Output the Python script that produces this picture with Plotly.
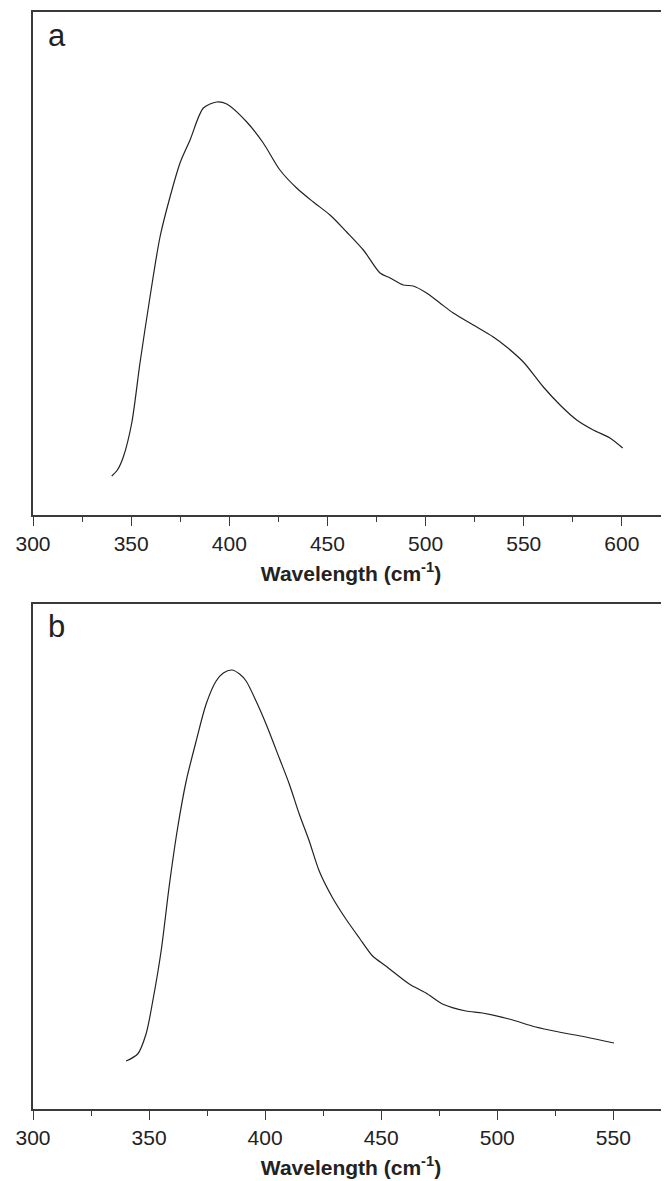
import plotly.graph_objects as go

# Panel a: PL spectrum
wl_a = [340.1, 343.0, 346.0, 350.3, 354.5, 359.6, 364.7, 369.8, 374.9, 380.0, 386.8, 393.6, 398.7,
        408.9, 417.3, 425.8, 434.3, 442.8, 451.3, 459.8, 468.3, 476.8, 481.9, 488.6, 493.7,
        500.5, 507.3, 514.1, 524.3, 534.5, 541.3, 549.8, 560.0, 568.5, 577.0, 585.4, 593.9, 600.4]
int_a = [39, 45, 58, 92, 152, 218, 278, 318, 352, 375, 407, 413, 411,
         393, 372, 345, 327, 313, 300, 283, 265, 242, 237, 230, 229,
         222, 212, 202, 190, 178, 168, 153, 128, 110, 95, 85, 77, 67]

# Panel b: PL spectrum
wl_b = [340.1, 345.1, 348.7, 351.6, 355.2, 358.8, 362.3, 366.0, 370.3, 374.6, 378.9, 382.0, 385.7,
        389.0, 391.8, 396.1, 400.4, 406.1, 410.4, 414.7, 419.0, 423.3, 429.1, 434.8, 440.6, 446.3,
        452.0, 462.1, 469.3, 476.4, 486.5, 493.6, 505.1, 516.6, 526.6, 538.1, 550.3]
int_b = [48, 55, 75, 108, 158, 225, 281, 328, 368, 405, 428, 436, 439,
         435, 428, 408, 385, 351, 325, 295, 268, 238, 211, 190, 171, 153,
         143, 125, 116, 105, 98, 96, 90, 82, 77, 72, 66]

x_ticks = [300, 350, 400, 450, 500, 550, 600]

# page body has an 8px default margin; figure sized to fill the rest of the window
W, H = 661, 1173
FONT = "Liberation Sans, Arial, sans-serif"
LINE = "#222222"
AX = "#3a3a3a"

fig = go.Figure()
fig.add_trace(go.Scatter(x=wl_a, y=int_a, mode="lines", line=dict(color=LINE, width=1.2, shape="spline", smoothing=0.8),
                         xaxis="x", yaxis="y", showlegend=False))
fig.add_trace(go.Scatter(x=wl_b, y=int_b, mode="lines", line=dict(color=LINE, width=1.2, shape="spline", smoothing=0.8),
                         xaxis="x2", yaxis="y2", showlegend=False))

def xax(rng, anchor):
    return dict(range=rng, domain=[25 / W, 1], anchor=anchor, showline=True, mirror=True, automargin=False,
                linecolor=AX, linewidth=1.5, ticks="outside", ticklen=9, tickwidth=1.3, tickcolor=AX,
                tickvals=x_ticks, showgrid=False, zeroline=False,
                tickfont=dict(family=FONT, size=21, color="#222"),
                minor=dict(dtick=25, tick0=300, ticks="outside", ticklen=5, tickwidth=1.3, tickcolor=AX, showgrid=False),
                title=dict(text="<b>Wavelength (cm<sup>-1</sup>)</b>", font=dict(family=FONT, size=21, color="#222"), standoff=12))

def yax(rng, dom, anchor):
    return dict(range=rng, domain=dom, anchor=anchor, showline=True, mirror=False, linecolor=AX, linewidth=1.5,
                automargin=False, showticklabels=False, ticks="", showgrid=False, zeroline=False)

fig.update_layout(
    width=W, height=H, margin=dict(l=0, r=0, t=0, b=0, autoexpand=False),
    paper_bgcolor="white", plot_bgcolor="white",
    xaxis=xax([300, 624], "y"),
    yaxis=yax([0, 503], [1 - 507 / H, 1 - 4 / H], "x"),
    xaxis2=xax([300, 574], "y2"),
    yaxis2=yax([0, 505], [1 - 1101 / H, 1 - 596 / H], "x2"),
    annotations=[
        dict(text="a", x=38 / W, y=1 - 47 / H, xref="paper", yref="paper", xanchor="left", yanchor="bottom",
             showarrow=False, font=dict(family=FONT, size=31, color="#222")),
        dict(text="b", x=38 / W, y=1 - 638 / H, xref="paper", yref="paper", xanchor="left", yanchor="bottom",
             showarrow=False, font=dict(family=FONT, size=31, color="#222")),
    ],
)

fig.write_html("out.html")
